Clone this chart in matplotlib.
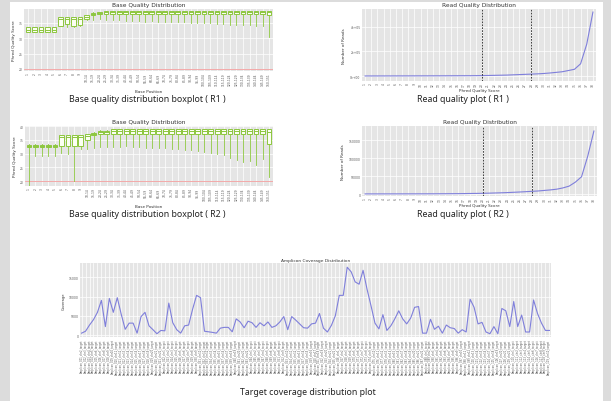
import matplotlib
matplotlib.use("Agg")
import matplotlib.pyplot as plt
from matplotlib.patches import Rectangle

W, H = 611, 402

# ---- base quality boxplots (per position: whisker low, q1, median, q3, whisker high)
base_pos = [str(i) for i in range(1, 10)] + [f"{s}-{s+4}" for s in range(10, 150, 5)] + ["150-151"]

r1_lo  = [32.0, 32.0, 32.0, 32.0, 32.0, 33.8, 33.6, 33.6, 33.8, 35.8, 36.0, 36.2, 36.0, 35.8, 35.8,
          35.6, 35.6, 35.6, 35.4, 35.6, 35.4, 35.4, 35.2, 35.2, 35.4, 35.0, 35.0, 34.8, 34.8, 34.6,
          34.6, 34.4, 34.4, 34.2, 34.2, 34.0, 34.0, 30.3]
r1_q1  = [32.0, 32.0, 32.0, 32.0, 32.0, 34.1, 34.7, 34.1, 34.3, 36.1, 37.6, 37.9, 38.0, 38.0, 38.0,
          38.0, 38.0, 38.0, 38.0, 38.0, 38.0, 38.0, 38.0, 38.0, 38.0, 38.0, 38.0, 38.0, 38.0, 38.0,
          38.0, 38.0, 38.0, 38.0, 38.0, 38.0, 38.0, 37.6]
r1_med = [32.8, 32.8, 32.8, 32.8, 32.8, 36.2, 36.4, 36.2, 36.3, 36.8, 38.0, 38.3, 38.4, 38.4, 38.4,
          38.4, 38.4, 38.4, 38.4, 38.4, 38.4, 38.4, 38.4, 38.4, 38.4, 38.4, 38.4, 38.4, 38.4, 38.4,
          38.4, 38.4, 38.4, 38.4, 38.4, 38.4, 38.4, 38.4]
r1_q3  = [33.7, 33.7, 33.7, 33.7, 33.7, 36.8, 36.8, 36.8, 36.8, 37.4, 38.2, 38.5, 38.7, 38.7, 38.7,
          38.7, 38.7, 38.7, 38.7, 38.7, 38.7, 38.7, 38.7, 38.7, 38.7, 38.7, 38.7, 38.7, 38.7, 38.7,
          38.7, 38.7, 38.7, 38.7, 38.7, 38.7, 38.7, 38.8]
r1_hi  = [33.7, 33.7, 33.7, 33.7, 33.7, 36.8, 36.8, 36.8, 36.8, 37.4, 38.4, 38.6, 38.7, 38.7, 38.7,
          38.7, 38.7, 38.7, 38.7, 38.7, 38.7, 38.7, 38.7, 38.7, 38.7, 38.7, 38.7, 38.7, 38.7, 38.7,
          38.7, 38.7, 38.7, 38.7, 38.7, 38.7, 38.7, 38.8]

r2_lo  = [18.3, 29.2, 29.2, 29.2, 29.2, 30.4, 30.0, 20.1, 31.8, 31.8, 32.0, 32.4, 32.4, 32.6, 32.6,
          32.8, 32.6, 32.4, 32.2, 32.2, 32.0, 32.0, 31.8, 31.6, 31.4, 31.2, 31.0, 30.6, 30.2, 29.8,
          29.4, 28.4, 27.6, 27.0, 27.4, 25.8, 28.0, 21.5]
r2_q1  = [32.3, 32.3, 32.3, 32.3, 32.3, 32.9, 32.9, 32.9, 32.9, 35.0, 36.7, 37.1, 37.1, 37.1, 37.1,
          37.1, 37.1, 37.1, 37.1, 37.1, 37.1, 37.1, 37.1, 37.1, 37.1, 37.1, 37.1, 37.1, 37.1, 37.1,
          37.1, 37.1, 37.1, 37.1, 37.1, 37.1, 37.1, 33.4]
r2_med = [32.7, 32.7, 32.7, 32.7, 32.7, 36.2, 36.2, 36.2, 36.2, 36.6, 37.3, 37.9, 38.0, 38.4, 38.4,
          38.4, 38.4, 38.4, 38.4, 38.4, 38.4, 38.4, 38.4, 38.4, 38.4, 38.4, 38.4, 38.4, 38.4, 38.4,
          38.4, 38.4, 38.4, 38.4, 38.4, 38.4, 38.4, 37.8]
r2_q3  = [33.1, 33.1, 33.1, 33.1, 33.1, 36.7, 36.7, 36.7, 36.7, 37.1, 37.7, 38.4, 38.4, 38.9, 38.9,
          38.9, 38.9, 38.9, 38.9, 38.9, 38.9, 38.9, 38.9, 38.9, 38.9, 38.9, 38.9, 38.9, 38.9, 38.9,
          38.9, 38.9, 38.9, 38.9, 38.9, 38.9, 38.9, 38.9]
r2_hi  = [33.4, 33.4, 33.4, 33.4, 33.4, 36.9, 36.9, 36.9, 36.9, 37.3, 38.0, 38.6, 38.6, 38.9, 38.9,
          38.9, 38.9, 38.9, 38.9, 38.9, 38.9, 38.9, 38.9, 38.9, 38.9, 38.9, 38.9, 38.9, 38.9, 38.9,
          38.9, 38.9, 38.9, 38.9, 38.9, 38.9, 38.9, 38.9]

# ---- read quality (number of reads per mean phred score)
phred = list(range(1, 39))
thresholds = [20, 28]
r1_reads = [900, 1000, 1100, 1200, 1300, 1400, 1500, 1600, 1700, 1800, 1900, 2000, 2100, 2300,
            2500, 2700, 2900, 3000, 3500, 4000, 5000, 6000, 7000, 8000, 10000, 12000, 14000, 16000,
            18000, 21000, 25000, 30000, 35000, 45000, 55000, 100000, 260000, 520000]
r2_reads = [300, 320, 340, 360, 380, 400, 420, 450, 480, 520, 560, 600, 700, 800, 900, 1000,
            1200, 1500, 1700, 2000, 2400, 2900, 3400, 4000, 4800, 5600, 6500, 7500, 8500, 10000,
            11500, 13500, 17000, 22000, 33000, 48000, 105000, 175000]

# ---- amplicon coverage
coverage = [500, 1000, 2600, 4000, 5900, 9000, 2200, 9500, 5900, 9700, 5400, 1500, 3100, 3100, 500,
            4800, 5900, 2400, 1400, 350, 1200, 1100, 8300, 3200, 1400, 500, 2400, 2600, 6700, 10300,
            9700, 1000, 850, 700, 500, 1800, 2000, 2000, 850, 4200, 3400, 1900, 3600, 3200, 2000,
            3200, 2400, 3400, 2000, 2400, 3400, 4800, 1400, 4800, 3900, 2900, 1900, 1800, 2900, 3100,
            5600, 1800, 800, 2500, 5000, 10300, 10300, 17600, 16400, 13800, 13200, 16800, 11900, 7600,
            3100, 1600, 5300, 1200, 2400, 4200, 6300, 4200, 2900, 4400, 7200, 7400, 500, 500, 4100,
            1500, 2300, 500, 2600, 1900, 1700, 500, 1400, 800, 9300, 7200, 2900, 3300, 800, 350,
            2200, 350, 6900, 6300, 2200, 8700, 2200, 5200, 800, 800, 9100, 5600, 3100, 1200, 1200]
amplicons = [f"Amplicon_{i:03d}_chr{(i % 22) + 1}_target" for i in range(1, len(coverage) + 1)]

BG = "#E5E5E5"
GREEN = "#8CC63E"
LINE = "#7F7FDB"
TXT = "#555555"

fig = plt.figure(figsize=(W / 100, H / 100), dpi=100)
fig.patch.set_facecolor("#DCDCDC")
fig.add_artist(Rectangle((10 / W, 0), 593 / W, 1 - 3 / H, transform=fig.transFigure,
                         facecolor="white", edgecolor="none", zorder=-1))


def px_axes(x0, y0, x1, y1):
    ax = fig.add_axes([x0 / W, 1 - y1 / H, (x1 - x0) / W, (y1 - y0) / H])
    ax.set_facecolor(BG)
    for s in ax.spines.values():
        s.set_visible(False)
    ax.tick_params(length=0, labelsize=2.2, labelcolor=TXT, pad=1)
    ax.set_axisbelow(True)
    return ax


def caption(x, y, s):
    fig.text(x / W, 1 - y / H, s, ha="center", va="center", fontsize=6.3,
             family="Noto Sans", color="#222222")


def boxplot_panel(rect, lo, q1, med, q3, hi, ylim, yticks, cap_y, cap):
    ax = px_axes(*rect)
    stats = [dict(whislo=a, q1=b, med=c, q3=d, whishi=e) for a, b, c, d, e in zip(lo, q1, med, q3, hi)]
    pos = list(range(1, len(base_pos) + 1))
    ax.bxp(stats, positions=pos, widths=0.72, showfliers=False, showcaps=False, patch_artist=True,
           boxprops=dict(facecolor="#FBFFF2", edgecolor=GREEN, linewidth=0.7),
           medianprops=dict(color=GREEN, linewidth=0.7),
           whiskerprops=dict(color=GREEN, linewidth=0.6))
    ax.axhline(20, color="#F08A8A", linewidth=0.5, zorder=1)
    ax.set_xticks(pos)
    ax.set_xticklabels(base_pos, rotation=90)
    ax.set_yticks(yticks)
    ax.set_ylim(*ylim)
    ax.set_xlim(0.4, len(pos) + 0.6)
    ax.grid(True, color="white", linewidth=0.5)
    ax.set_title("Base Quality Distribution", fontsize=4.2, color="#333333", pad=2)
    ax.set_xlabel("Base Position", fontsize=3, color="#333333", labelpad=3)
    ax.set_ylabel("Phred Quality Score", fontsize=3, color="#333333", labelpad=2)
    caption(147, cap_y, cap)


def readq_panel(rect, reads, ylim, yticks, ylabels, cap_y, cap):
    ax = px_axes(*rect)
    ax.plot(phred, reads, color=LINE, linewidth=0.8)
    for t in thresholds:
        ax.axvline(t, color="#222222", linestyle=(0, (2, 1.5)), linewidth=0.6)
    ax.set_xticks(phred)
    ax.set_xticklabels([str(p) for p in phred], rotation=90)
    ax.set_xlim(phred[0] - 0.5, phred[-1] + 0.5)
    ax.set_ylim(*ylim)
    ax.set_yticks(yticks)
    ax.set_yticklabels(ylabels)
    ax.grid(True, color="white", linewidth=0.5)
    ax.set_title("Read Quality Distribution", fontsize=4.2, color="#333333", pad=2)
    ax.set_xlabel("Phred Quality Score", fontsize=3, color="#333333", labelpad=1)
    ax.set_ylabel("Number of Reads", fontsize=3, color="#333333", labelpad=3)
    caption(463, cap_y, cap)


boxplot_panel((24, 10, 273, 72), r1_lo, r1_q1, r1_med, r1_q3, r1_hi, (19.3, 39.5),
              [20, 25, 30, 35], 100, "Base quality distribution boxplot ( R1 )")
boxplot_panel((25, 127, 273, 187), r2_lo, r2_q1, r2_med, r2_q3, r2_hi, (18.2, 40.1),
              [20, 25, 30, 35, 40], 215, "Base quality distribution boxplot ( R2 )")
readq_panel((362, 10, 596, 82), r1_reads, (-40000, 545000), [0, 200000, 400000],
            ["0e+00", "2e+05", "4e+05"], 100, "Read quality plot ( R1 )")
readq_panel((362, 127, 597, 197), r2_reads, (-5500, 189000), [0, 50000, 100000, 150000],
            ["0", "50000", "100000", "150000"], 215, "Read quality plot ( R2 )")

# coverage panel
ax = px_axes(80, 264, 551, 338)
xs = list(range(len(coverage)))
ax.plot(xs, coverage, color=LINE, linewidth=0.8)
ax.set_xticks(xs)
ax.set_xticklabels(amplicons, rotation=90, fontsize=1.8)
ax.set_xlim(-0.4, len(coverage) - 0.6)
ax.set_ylim(-500, 18700)
ax.set_yticks([0, 5000, 10000, 15000])
ax.grid(True, color="white", linewidth=0.5)
ax.set_title("Amplicon Coverage Distribution", fontsize=3.2, color="#333333", pad=1.5)
ax.set_ylabel("Coverage", fontsize=2.6, color="#333333", labelpad=2)
caption(308, 393, "Target coverage distribution plot")

fig.savefig("out.png", dpi=100, facecolor=fig.get_facecolor())
